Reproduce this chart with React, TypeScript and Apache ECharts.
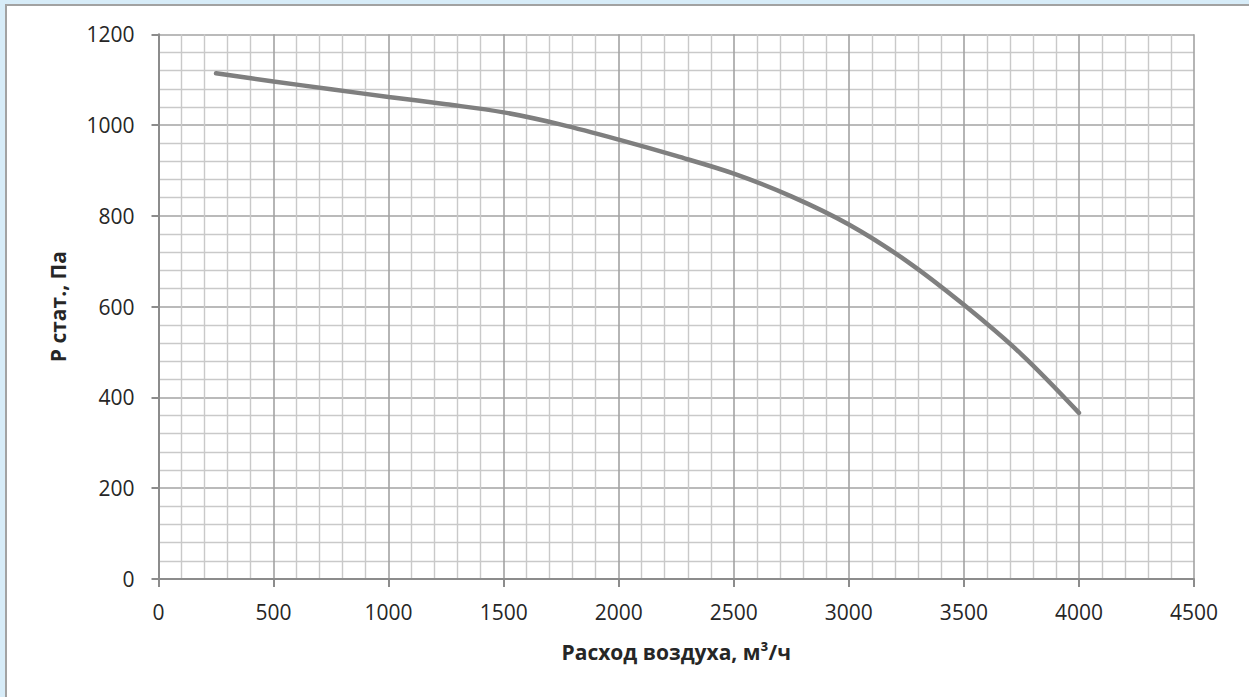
import React, { useEffect, useRef } from "react";
import * as echarts from "echarts";

const flowValues = [250, 500, 750, 1000, 1250, 1500, 1750, 2000, 2250, 2500, 2750, 3000, 3250, 3500, 3750, 4000];
const pressureValues = [1114, 1096, 1079, 1062, 1046, 1028, 1001, 968, 932, 893, 843, 781, 701, 604, 495, 366];
const xAxisTitle = "Расход воздуха, м³/ч";
const yAxisTitle = "Р стат., Па";

export default function App() {
  const ref = useRef<HTMLDivElement>(null);
  useEffect(() => {
    if (!ref.current) return;
    const chart = echarts.init(ref.current, null, { renderer: "svg" });
    const font = "'Open Sans', 'Noto Sans', sans-serif";
    const fmt = (v: number) => String(v);
    chart.setOption({
      animation: false,
      backgroundColor: "transparent",
      grid: { left: 158.5, right: 55, top: 34.3, bottom: 118, containLabel: false },
      xAxis: {
        type: "value",
        min: 0,
        max: 4500,
        interval: 500,
        name: xAxisTitle,
        nameLocation: "middle",
        nameGap: 62,
        nameTextStyle: { fontFamily: font, fontWeight: "bold", fontSize: 21, color: "#262626" },
        axisLine: { show: true, lineStyle: { color: "#8c8c8c", width: 2 } },
        axisTick: { show: true, inside: false, length: 8, lineStyle: { color: "#8c8c8c", width: 2 } },
        axisLabel: { fontFamily: font, fontSize: 21, color: "#262626", margin: 22, formatter: fmt },
        splitLine: { show: true, lineStyle: { color: "#a3a3a3", width: 1.6 } },
        minorTick: { show: false, splitNumber: 5 },
        minorSplitLine: { show: true, lineStyle: { color: "#c9c9c9", width: 1.4 } },
      },
      yAxis: {
        type: "value",
        min: 0,
        max: 1200,
        interval: 200,
        name: yAxisTitle,
        nameLocation: "middle",
        nameGap: 90,
        nameRotate: 90,
        nameTextStyle: { fontFamily: font, fontWeight: "bold", fontSize: 21, color: "#262626" },
        axisLine: { show: true, lineStyle: { color: "#8c8c8c", width: 2 } },
        axisTick: { show: true, inside: false, length: 7, lineStyle: { color: "#8c8c8c", width: 2 } },
        axisLabel: { fontFamily: font, fontSize: 21, color: "#262626", margin: 24, formatter: fmt },
        splitLine: { show: true, lineStyle: { color: "#a3a3a3", width: 1.6 } },
        minorTick: { show: false, splitNumber: 5 },
        minorSplitLine: { show: true, lineStyle: { color: "#c9c9c9", width: 1.4 } },
      },
      series: [
        {
          type: "line",
          data: flowValues.map((x, i) => [x, pressureValues[i]]),
          smooth: 0.35,
          showSymbol: false,
          symbol: "none",
          lineStyle: { color: "#7f7f7f", width: 4.5, cap: "round" },
        },
      ],
    });
    return () => chart.dispose();
  }, []);

  return (
    <div style={{ position: "fixed", left: 0, top: 0, width: 1249, height: 697, background: "#d7ecf8", overflow: "hidden" }}>
      <div
        style={{
          position: "absolute",
          left: 5,
          top: 4,
          width: 1260,
          height: 710,
          background: "#ffffff",
          borderLeft: "2px solid #a2a2a2",
          borderTop: "2px solid #a2a2a2",
        }}
      />
      <div ref={ref} style={{ position: "absolute", left: 0, top: 0, width: 1249, height: 697 }} />
    </div>
  );
}
